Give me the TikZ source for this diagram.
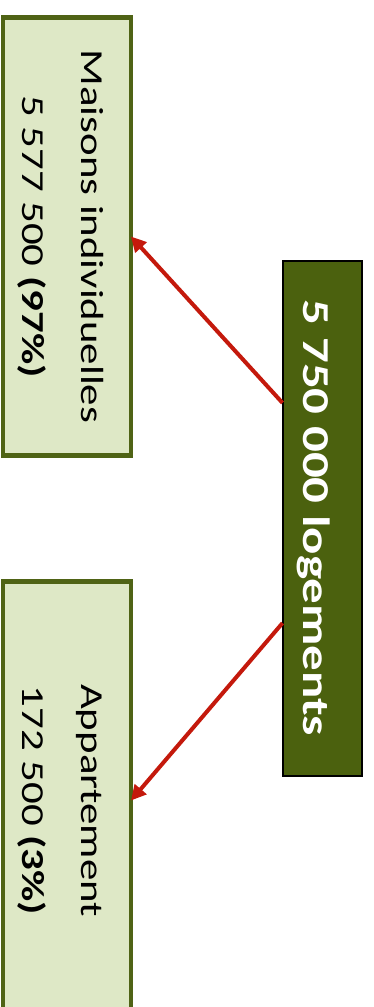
\documentclass[tikz,border=0pt]{standalone}
\usepackage{fontspec}
\setmainfont{Carlito}
\usetikzlibrary{arrows.meta,calc}
\definecolor{boxfill}{HTML}{DEE8C6}
\definecolor{boxline}{HTML}{4F6315}
\definecolor{mainfill}{HTML}{4B610E}
\definecolor{arrowred}{HTML}{C4190C}
\newcommand{\leaftext}[2]{\rotatebox{-90}{\raisebox{-3.5pt}[\height][\depth]{\scalebox{1.34}[1]{\fontsize{32}{59}\selectfont\begin{tabular}{@{}c@{}}#1\\#2\end{tabular}}}}}
\newcommand{\roottext}[1]{\rotatebox{-90}{\raisebox{-8pt}[\height][\depth]{\scalebox{1.34}[1]{\fontsize{38}{46}\selectfont\bfseries #1}}}}
\begin{document}
\begin{tikzpicture}[x=1pt,y=-1pt,
  leaf/.style={draw=boxline, line width=4.5pt, fill=boxfill, minimum width=128pt, minimum height=438pt, inner sep=0pt, outer sep=0pt, text=black},
  root/.style={draw=black, line width=2pt, fill=mainfill, minimum width=79pt, minimum height=515pt, inner sep=0pt, outer sep=0pt, text=white},
  link/.style={draw=arrowred, line width=4pt, -{Triangle[length=15pt,width=15pt]}}]
\useasboundingbox (0,0) rectangle (373,1007);
\clip (0,0) rectangle (373,1007);
\fill[white] (0,0) rectangle (373,1007);
\node[leaf] (maisons) at (67,236.5) {\leaftext{Maisons individuelles}{5 577 500 \textbf{(97\%)}}};
\node[leaf] (appart) at (67,800.5) {\leaftext{Appartement}{172 500 \textbf{(3\%)}}};
\node[root] (total) at (322,518) {\roottext{5 750 000 logements}};
\coordinate (s1) at ($(total.north west)!0.2765!(total.south west)$);
\coordinate (s2) at ($(total.north west)!0.704!(total.south west)$);
\draw[link] (s1) -- (maisons.east);
\draw[link] (s2) -- (appart.east);
\end{tikzpicture}
\end{document}
